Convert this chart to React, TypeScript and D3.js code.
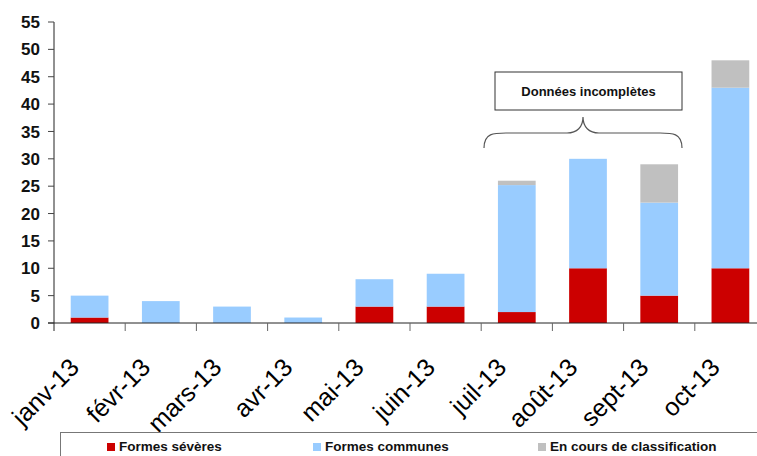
import React from "react";
import * as d3 from "d3";

const months = ["janv-13", "févr-13", "mars-13", "avr-13", "mai-13", "juin-13", "juil-13", "août-13", "sept-13", "oct-13"];
const severes = [1, 0, 0, 0, 3, 3, 2, 10, 5, 10];
const communes = [4, 4, 3, 1, 5, 6, 23.2, 20, 17, 33];
const enCours = [0, 0, 0, 0, 0, 0, 0.8, 0, 7, 5];
const yTicks = [0, 5, 10, 15, 20, 25, 30, 35, 40, 45, 50, 55];
const seriesNames = ["Formes sévères", "Formes communes", "En cours de classification"];
const seriesColors = ["#CC0000", "#99CCFF", "#C0C0C0"];

const W = 757;
const H = 456;
const FONT = "'Liberation Sans', Arial, Helvetica, sans-serif";

export default function App() {
  const x = d3.scaleBand<string>().domain(months).range([54, 766]).paddingInner(0.47).paddingOuter(0.235);
  const y = d3.scaleLinear().domain([0, 55]).range([323, 22]);
  const step = x.step();
  const rows = months.map((m, i) => ({ m, s: severes[i], c: communes[i], e: enCours[i] }));
  const stack = d3.stack<any>().keys(["s", "c", "e"])(rows);

  const bx0 = 484, bx1 = 682, bTop = 117, bMid = 133, bBot = 148, bc = 583;
  const brace = `M${bx0},${bBot} C${bx0},${bMid} ${bx0 + 10},${bMid} ${bx0 + 22},${bMid} L${bc - 16},${bMid} C${bc - 6},${bMid} ${bc},${bMid - 6} ${bc},${bTop} C${bc},${bMid - 6} ${bc + 6},${bMid} ${bc + 16},${bMid} L${bx1 - 22},${bMid} C${bx1 - 10},${bMid} ${bx1},${bMid} ${bx1},${bBot}`;

  const legendX = [107, 313, 538];

  return (
    <svg width={W} height={H} style={{ position: "absolute", left: 0, top: 0, background: "#fff" }} fontFamily={FONT}>
      <rect x={0} y={0} width={W} height={H} fill="#fff" />
      {stack.map((layer, li) => (
        <g key={li} fill={seriesColors[li]}>
          {layer.map((d, i) => {
            const h = y(d[0]) - y(d[1]);
            if (h <= 0) return null;
            return <rect key={i} x={x(months[i])!} y={y(d[1])} width={x.bandwidth()} height={h} />;
          })}
        </g>
      ))}
      <line x1={54} x2={54} y1={y(55)} y2={331} stroke="#222" strokeWidth={1} />
      {yTicks.map((t) => (
        <g key={t}>
          <line x1={48} x2={54} y1={y(t)} y2={y(t)} stroke="#444" />
          <text x={40} y={y(t)} dy="0.36em" textAnchor="end" fontSize={17} fontWeight="bold" fill="#111">
            {t}
          </text>
        </g>
      ))}
      <line x1={48} x2={W} y1={y(0)} y2={y(0)} stroke="#222" />
      {months.map((m, i) => (
        <line key={m} x1={54 + step * (i + 1)} x2={54 + step * (i + 1)} y1={y(0)} y2={331} stroke="#666" />
      ))}
      {months.map((m) => {
        const cx = x(m)! + x.bandwidth() / 2;
        return (
          <text key={m} transform={`translate(${cx - 9},${369}) rotate(-45)`} textAnchor="end" fontSize={25} fill="#000">
            {m}
          </text>
        );
      })}
      <rect x={495} y={72} width={187} height={38} fill="#fff" stroke="#333" strokeWidth={1} />
      <text x={588.5} y={91} dy="0.36em" textAnchor="middle" fontSize={13} fontWeight="bold" fill="#111">
        Données incomplètes
      </text>
      <path d={brace} fill="none" stroke="#555" strokeWidth={1.2} />
      <rect x={60.5} y={432.5} width={720} height={40} fill="#fff" stroke="#777" strokeWidth={1} />
      {seriesNames.map((n, i) => (
        <g key={n}>
          <rect x={legendX[i]} y={443} width={8} height={8} fill={seriesColors[i]} />
          <text x={legendX[i] + 12} y={451} fontSize={13.5} fontWeight="bold" fill="#111">
            {n}
          </text>
        </g>
      ))}
    </svg>
  );
}
